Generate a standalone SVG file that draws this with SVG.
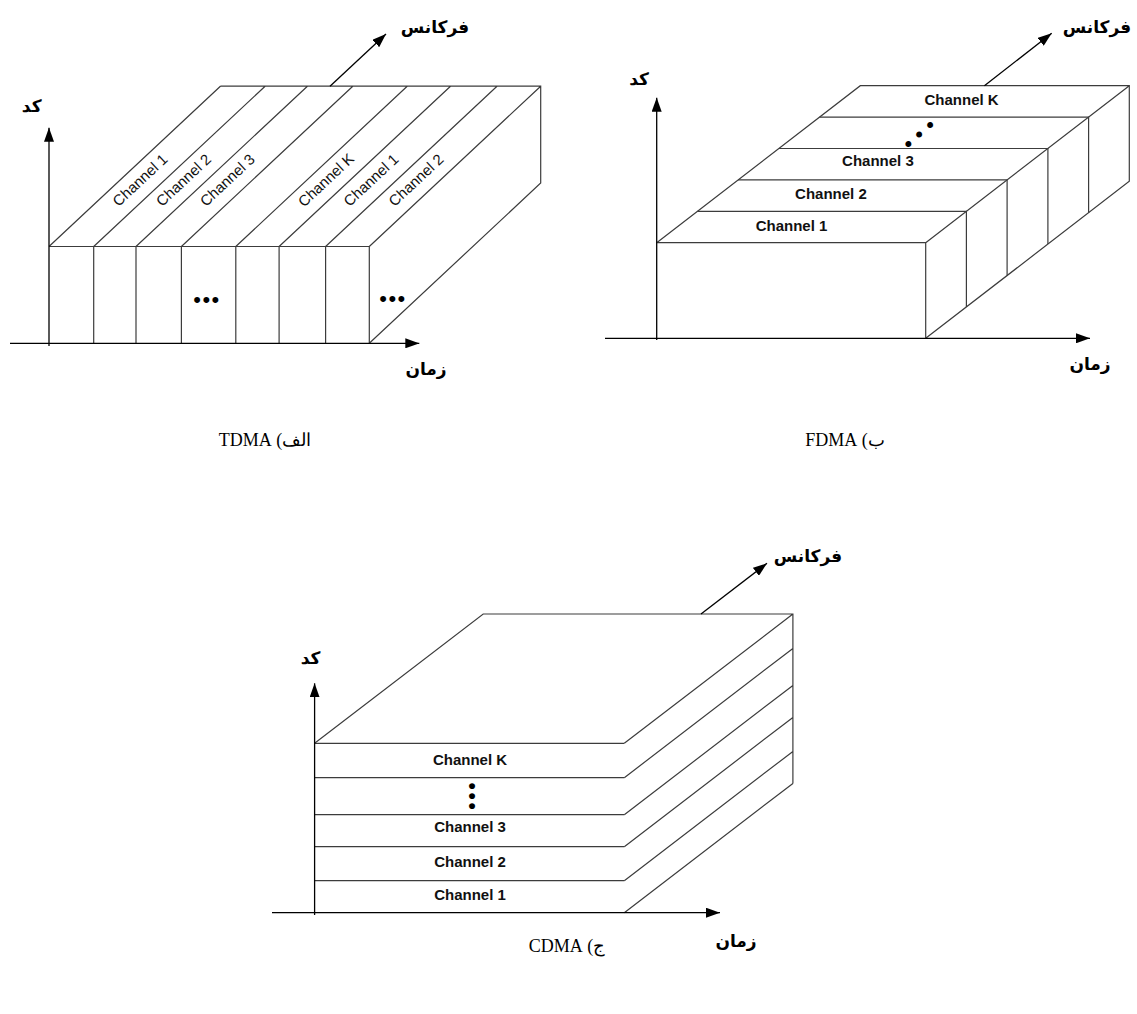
<svg xmlns="http://www.w3.org/2000/svg" width="1137" height="1014" viewBox="0 0 1137 1014">
<defs>
<style>
.box{fill:none;stroke:#3c3c3c;stroke-width:1.2}
.axis{fill:none;stroke:#000;stroke-width:1.3}
.lbl{font-family:"Liberation Sans",Arial,sans-serif;font-weight:bold;font-size:15px;fill:#111;text-anchor:middle}
.rl{font-family:"Liberation Sans",Arial,sans-serif;font-size:15px;fill:#111;text-anchor:middle}
.fa{font-family:"DejaVu Sans",sans-serif;font-weight:bold;font-size:17px;fill:#000;text-anchor:middle}
.cap{font-family:"Liberation Serif","DejaVu Serif",serif;font-size:18px;fill:#000;text-anchor:middle}
.dots{font-family:"Liberation Sans",Arial,sans-serif;font-size:22px;fill:#000;text-anchor:middle}
</style>
<marker id="ah" viewBox="0 0 14 10" refX="14" refY="5" markerWidth="14" markerHeight="10" markerUnits="userSpaceOnUse" orient="auto">
<path d="M0,0 L14,5 L0,10 z" fill="#000"/>
</marker>
</defs>
<rect width="1137" height="1014" fill="#fff"/>

<g id="tdma">
<path class="box" d="M49,246.5 H369.3 V343.3 M93.7,246.5 V343.3 M136,246.5 V343.3 M181.4,246.5 V343.3 M235.8,246.5 V343.3 M279.1,246.5 V343.3 M325.6,246.5 V343.3"/>
<path class="box" d="M220.4,86.2 H540.7 V183 L369.3,343.3 M49,246.5 L220.4,86.2 M93.7,246.5 L265.1,86.2 M136,246.5 L307.4,86.2 M181.4,246.5 L352.8,86.2 M235.8,246.5 L407.2,86.2 M279.1,246.5 L450.5,86.2 M325.6,246.5 L497,86.2 M369.3,246.5 L540.7,86.2"/>
<g id="tdma-labels">
<text class="rl" transform="translate(140,180) rotate(-43.1)" dy="0.35em">Channel 1</text>
<text class="rl" transform="translate(183.5,180) rotate(-43.1)" dy="0.35em">Channel 2</text>
<text class="rl" transform="translate(227.3,180) rotate(-43.1)" dy="0.35em">Channel 3</text>
<text class="rl" transform="translate(326,180) rotate(-43.1)" dy="0.35em">Channel K</text>
<text class="rl" transform="translate(371,180) rotate(-43.1)" dy="0.35em">Channel 1</text>
<text class="rl" transform="translate(416,180) rotate(-43.1)" dy="0.35em">Channel 2</text>
</g>
<text class="dots" x="207" y="307" letter-spacing="1.5">•••</text>
<text class="dots" x="393" y="306" letter-spacing="1.5">•••</text>
<g id="tdma-axes">
<line class="axis" x1="49" y1="346" x2="49" y2="127.7" marker-end="url(#ah)"/>
<line class="axis" x1="10" y1="343.3" x2="419.3" y2="343.3" marker-end="url(#ah)"/>
<line class="axis" x1="330" y1="86.2" x2="386" y2="34" marker-end="url(#ah)"/>
</g>
<text class="fa" x="435" y="33">فرکانس</text>
<text class="fa" x="31.7" y="112">کد</text>
<text class="fa" x="426" y="375">زمان</text>
<text class="cap" x="265" y="446" direction="rtl">الف) TDMA</text>
</g>

<g id="fdma">
<path class="box" d="M656.7,242.7 H925.7 V338.3 M656.7,242.7 L860.3,85.7 H1129.3 V181.3 L925.7,338.3 M925.7,242.7 L1129.3,85.7"/>
<path class="box" d="M697.4,211.3 H966.4 V306.9 M738.1,179.9 H1007.1 V275.5 M778.9,148.5 H1047.9 V244.1 M819.6,117.1 H1088.6 V212.7"/>
<g id="fdma-labels">
<text class="lbl" x="791.5" y="231">Channel 1</text>
<text class="lbl" x="830.9" y="198.5">Channel 2</text>
<text class="lbl" x="877.9" y="166">Channel 3</text>
<text class="lbl" x="961.6" y="105">Channel K</text>
</g>
<text class="dots" transform="translate(922,132.5) rotate(-41)" y="7" letter-spacing="6.8">•••</text>
<g id="fdma-axes">
<line class="axis" x1="656.7" y1="340" x2="656.7" y2="97.7" marker-end="url(#ah)"/>
<line class="axis" x1="605" y1="338.3" x2="1090" y2="338.3" marker-end="url(#ah)"/>
<line class="axis" x1="984.4" y1="85.7" x2="1051.7" y2="33.3" marker-end="url(#ah)"/>
</g>
<text class="fa" x="1097" y="33">فرکانس</text>
<text class="fa" x="639" y="85">کد</text>
<text class="fa" x="1090" y="370">زمان</text>
<text class="cap" x="845" y="446" direction="rtl">ب) FDMA</text>
</g>

<g id="cdma">
<path class="box" d="M314.6,743.3 H624.3 M314.6,777.7 H624.3 M314.6,814.7 H624.3 M314.6,846.7 H624.3 M314.6,880.7 H624.3"/>
<path class="box" d="M314.6,743.3 L483.2,614 H792.9 V783.4 M624.3,743.3 L792.9,614 M624.3,777.7 L792.9,648.4 M624.3,814.7 L792.9,685.4 M624.3,846.7 L792.9,717.4 M624.3,880.7 L792.9,751.4 M624.3,912.7 L792.9,783.4"/>
<g id="cdma-labels">
<text class="lbl" x="470" y="764.5">Channel K</text>
<text class="lbl" x="470" y="831.5">Channel 3</text>
<text class="lbl" x="470" y="866.5">Channel 2</text>
<text class="lbl" x="470" y="899.5">Channel 1</text>
</g>
<text class="dots" transform="translate(472,797.3) rotate(90)" y="7" letter-spacing="2.3">•••</text>
<g id="cdma-axes">
<line class="axis" x1="314.6" y1="915" x2="314.6" y2="683.3" marker-end="url(#ah)"/>
<line class="axis" x1="272" y1="912.7" x2="720" y2="912.7" marker-end="url(#ah)"/>
<line class="axis" x1="701" y1="614" x2="767" y2="563.3" marker-end="url(#ah)"/>
</g>
<text class="fa" x="808" y="562">فرکانس</text>
<text class="fa" x="310.5" y="664">کد</text>
<text class="fa" x="736" y="947">زمان</text>
<text class="cap" x="567" y="952" direction="rtl">ج) CDMA</text>
</g>
</svg>
